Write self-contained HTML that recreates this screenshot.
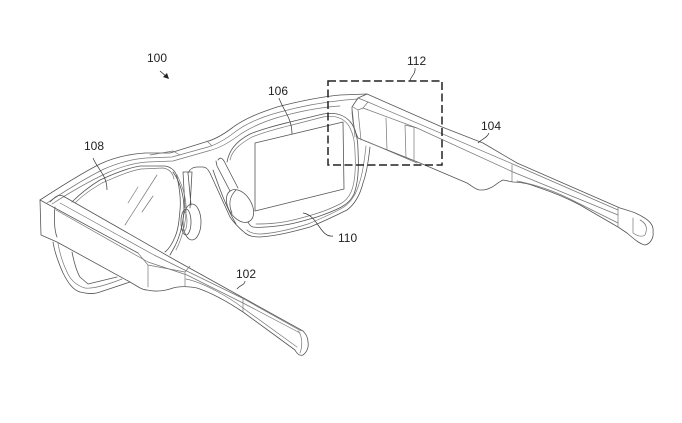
<!DOCTYPE html>
<html><head><meta charset="utf-8"><style>
html,body{margin:0;padding:0;background:#fff;width:682px;height:423px;overflow:hidden}
svg{display:block}
text{font-family:"Liberation Sans",sans-serif;font-size:12px;fill:#222}
.a{fill:none;stroke:#555;stroke-width:.8;stroke-linejoin:round;stroke-linecap:round}
.b{fill:none;stroke:#777;stroke-width:.7;stroke-linejoin:round;stroke-linecap:round}
.l{fill:none;stroke:#333;stroke-width:.7}
</style></head><body>
<svg width="682" height="423" viewBox="0 0 682 423">
<!-- top bar of frame -->
<path class="a" d="M40 200C60 187 82 173 100 164C115 157 130 154 145 153L170 153L207 141.500C216 139 224 134 232 128C245 118 262 112 277 107C300 101 320 97 340 95L367 94"/>
<path class="b" d="M47 203C68 189 88 177 104 169C118 163 132 159 146 158L172 157L208 147C218 144 226 139 235 132C248 122 265 116 280 112C302 106 325 102 345 100L358 99"/>
<path class="b" d="M52 204C72 191 92 180 107 173C120 167 134 163 147 162L173 161L208 151C220 148 228 143 238 136C250 127 268 120 283 116C305 110 325 107 340 106"/>
<path class="b" d="M173 151L180 155M207 141L212 146M150 155L173 151"/>
<!-- right lens rims -->
<path class="a" d="M227 162C229 151 235 142 250 134C265 128 278 125 290 122L323 114C335 112 345 114 352 124C356 131 358 140 358 150C359 170 358 183 354 194C351 200 348 203 343 206C335 211 325 214 317 217C303 221 290 225 277 226C268 227 258 228 253 227C250 226 249 224 248 222"/>
<path class="b" d="M230 160C232 151 238 145 252 137C267 131 280 128 292 125L323 117C334 115 343 117 349 126C353 133 355 142 355 152C356 170 355 183 351 192C348 199 344 202 340 204C332 208 322 212 315 214C302 218 288 222 276 223C268 224 260 224 256 224"/>
<path class="a" d="M370 147C368 165 366 175 363 183C360 195 355 204 347 210C335 216 322 222 310 227C292 232 276 236 260 237C253 237 249 236 245 233C239 228 234 223 230 217L210 173C208 169 206 167 203 167L197 167C193 167 190 169 188 173"/>
<path class="b" d="M366 146C364 165 362 176 359 184C356 194 352 201 344 207C332 214 320 219 308 224C292 229 276 233 261 234C254 234 250 233 247 230"/>
<path class="a" d="M213 170C218 184 225 205 236 224"/>
<!-- screen -->
<path class="a" d="M255 143L343 122L344 189L255 211Z" stroke="#444"/>
<!-- right nose pad -->
<path class="a" d="M218 160C220 157 222 158 224 161L238 188M216 161L217 166L230 191"/>
<ellipse class="a" cx="240" cy="206" rx="11.500" ry="18" transform="rotate(-32 240 206)"/>
<path class="a" d="M236 190C230 196 228 204 232 213"/>
<!-- bridge -->
<path class="a" d="M183 172L185 208M192 172L190 208M183 172L192 172M188 173L191 205"/>
<ellipse class="a" cx="192" cy="222" rx="9" ry="18"/>
<ellipse class="a" cx="186" cy="222" rx="5" ry="13"/>
<ellipse class="b" cx="184" cy="221" rx="3" ry="10"/>
<!-- left lens -->
<path class="a" d="M72 202C80 194 90 186 100 180C115 173 128 168 140 166L165 166C172 167 176 172 177 177C180 190 181 200 180 210C179 222 178 230 175 237C172 244 169 249 165 252"/>
<path class="b" d="M75 203C84 194 92 189 102 183C116 177 129 171 141 169L163 168C170 169 173 174 174 179"/>
<path class="a" d="M173 172C180 182 184 195 184 210C183 225 180 236 175 246L170 255"/>
<path class="b" d="M177 175C183 187 187 200 186 213C185 228 181 240 176 250"/>
<path class="b" d="M157 175L125 225M138 187L128 203M153 196L142 212"/>
<!-- left temple -->
<path class="a" d="M40 200L41 235L57 242L130 282C137 286 142 290 147 290C155 292 165 291 173 288C180 286 187 286 197 288C212 293 228 302 243 312L295 350C297 354 300 356 303 355C307 352 309 347 308 342C308 337 306 334 303 331L175 260L63 196C58 194 55 197 50 202"/>
<path class="a" d="M40 200L138 253"/>
<path class="a" d="M55 207C54 215 54 230 57 237"/>
<path class="b" d="M56 210L148 262L187 275L243 303L300 333M60 203L154 255L242 298L301 331"/>
<path class="b" d="M186 279C205 283 230 298 243 308L297 347"/>
<path class="b" d="M138 253L148 265L148 287M148 265L185 272L185 286M185 272L190 266"/>
<path class="b" d="M243 298L243 312M298 331C302 335 303 345 300 353"/>
<!-- left rim bottom -->
<path class="a" d="M53 242C55 255 60 266 63 273C68 283 73 290 80 292C88 294 95 294 100 292L130 282"/>
<path class="b" d="M58 243C60 256 64 266 68 274C72 282 78 286 85 288C92 289 104 286 122 279"/>
<path class="a" d="M72 252C74 262 77 272 80 277L88 284L117 277"/>
<!-- right temple -->
<path class="a" d="M367 94L442 127L483 143L517 163L620 208C630 211 637 213 643 217C650 221 654 226 653 232C654 238 650 244 645 245C640 244 635 240 627 233L618 227L580 205C565 197 552 192 540 188C530 184 522 182 513 182L503 180C498 182 494 187 490 188C486 190 484 190 480 190C476 190 472 186 467 183L420 163L370 143L358 138C354 130 352 118 352 107L358 98L367 94"/>
<path class="b" d="M358 98L368 102L515 165L618 210M363 108L417 128L513 172L618 215M368 142L417 163"/>
<path class="b" d="M352 107L355 137M358 110L361 140M358 110L363 108M353 107L358 110M363 108L368 102"/>
<path class="b" d="M386 118L387 150M405 125L406 158M414 128L414 160M405 125L417 128"/>
<path class="b" d="M512 165L512 182M517 181C532 184 552 190 570 199L618 223"/>
<path class="b" d="M618 208L618 227M633 218L633 233M640 220C646 223 648 228 645 235C641 238 636 235 633 233"/>
<!-- dashed box -->
<path d="M328 81H442V165H328Z" fill="none" stroke="#222" stroke-width="1.5" stroke-dasharray="8 3.500"/>
<!-- leaders -->
<path class="l" d="M93 158C98 170 107 175 107 190"/>
<path class="l" d="M279 98C283 110 292 118 292 134"/>
<path class="l" d="M303 213C318 215 320 238 333 236"/>
<path class="l" d="M415 68C416 74 410 77 410 81"/>
<path class="l" d="M489 133C487 138 482 139 478 143"/>
<path class="l" d="M245 281C245 285 240 285 237 289"/>
<path d="M160 71L167 77" stroke="#222" stroke-width=".8" fill="none"/>
<path d="M169 79L163 77L167 73Z" fill="#222"/>
<!-- labels -->
<text x="147" y="62">100</text>
<text x="407" y="65">112</text>
<text x="268" y="95">106</text>
<text x="481" y="130">104</text>
<text x="84" y="150">108</text>
<text x="236" y="278">102</text>
<text x="338" y="242">110</text>
</svg>
</body></html>
